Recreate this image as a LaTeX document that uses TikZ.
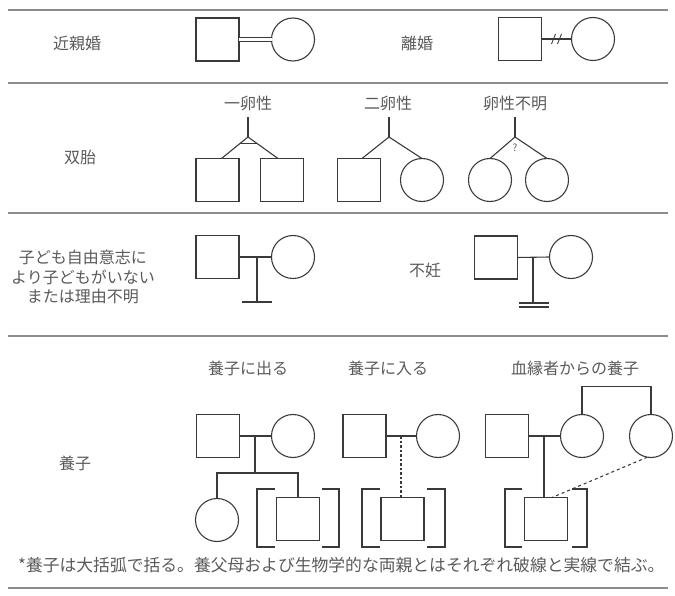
\documentclass[tikz,border=0pt]{standalone}
\usepackage{fontspec}
\newfontfamily\cjk{Noto Sans CJK JP}
\usetikzlibrary{calc}
\definecolor{ln}{HTML}{3A3A3A}
\definecolor{tx}{HTML}{5A5A5A}
\definecolor{rl}{HTML}{8C8C8C}
\tikzset{
  sq/.style={draw=ln, line width=1.1pt, minimum size=43pt, inner sep=0pt, outer sep=0pt},
  ci/.style={circle, draw=ln, line width=1.1pt, minimum size=43pt, inner sep=0pt, outer sep=0pt},
  lbl/.style={text=tx, font=\cjk\fontsize{16}{19.5}\selectfont, inner sep=0pt, align=center},
  note/.style={text=tx, font=\cjk\fontsize{16.8}{20}\selectfont, inner sep=0pt},
  conn/.style={draw=ln, line width=1.1pt},
  rulez/.style={draw=rl, line width=1.6pt},
  brk/.style={draw=ln, line width=1.1pt}
}
\begin{document}
\begin{tikzpicture}[x=1pt,y=-1pt]
\useasboundingbox (0,0) rectangle (675,596);
% rules
\draw[rulez] (8,10) -- (668,10);
\draw[rulez] (8,83) -- (668,83);
\draw[rulez] (8,213) -- (668,213);
\draw[rulez] (8,336) -- (668,336);
\draw[rulez] (8,588) -- (668,588);

% row 1
\node[lbl] (t1) at (77,43) {近親婚};
\node[sq] (s1) at (217.5,39.5) {};
\node[ci] (c1) at (293,39.5) {};
\draw[draw=ln, double=white, double distance=2.6pt, line width=1pt] (s1.east) -- (c1.west);
\node[lbl] (t2) at (417,43) {離婚};
\node[sq] (s2) at (520,39) {};
\node[ci] (c2) at (593,39) {};
\draw[conn] (s2.east) -- (c2.west);
\coordinate (dv) at ($(s2.east)!0.5!(c2.west)$);
\draw[conn, line width=0.9pt] ($(dv)+(-5,5)$) -- ($(dv)+(-1,-5)$);
\draw[conn, line width=0.9pt] ($(dv)+(1,5)$) -- ($(dv)+(5,-5)$);

% row 2
\node[lbl] (t3) at (80,157) {双胎};
\node[lbl] (m1) at (248,103) {一卵性};
\coordinate (a1) at (248,137);
\coordinate (a1t) at (248,117);
\node[sq] (tw1) at (217.5,180) {};
\node[sq] (tw2) at (282,180) {};
\draw[conn] (a1t) -- (a1);
\draw[conn] (a1) -- ($(tw1.north)+(4,0)$);
\draw[conn] (a1) -- ($(tw2.north)+(-4,0)$);
\draw[conn] ($(a1)!0.3!($(tw1.north)+(4,0)$)$) -- ($(a1)!0.3!($(tw2.north)+(-4,0)$)$);

\node[lbl] (m2) at (388,103) {二卵性};
\coordinate (a2) at (389,137);
\coordinate (a2t) at (389,117);
\node[sq] (dz1) at (359,180) {};
\node[ci] (dz2) at (422,180) {};
\draw[conn] (a2t) -- (a2);
\draw[conn] (a2) -- ($(dz1.north)+(3,0)$);
\draw[conn] (a2) -- (dz2.north);

\node[lbl] (m3) at (515,103) {卵性不明};
\coordinate (a3) at (515,137);
\coordinate (a3t) at (515,117);
\node[ci] (uz1) at (490,180) {};
\node[ci] (uz2) at (547,180) {};
\draw[conn] (a3t) -- (a3);
\draw[conn] (a3) -- (uz1.north);
\draw[conn] (a3) -- (uz2.north);
\node[text=tx, font=\cjk\fontsize{10}{12}\selectfont, inner sep=0pt] (q) at (515,148) {?};

% row 3
\node[lbl] (t4) at (83,277) {子ども自由意志に\\より子どもがいない\\または理由不明};
\node[sq] (s3) at (217.5,257) {};
\node[ci] (c3) at (293,257) {};
\draw[conn] (s3.east) -- (c3.west);
\coordinate (n1) at (257,257);
\coordinate (n1b) at (257,302);
\draw[conn] (n1) -- (n1b);
\draw[conn] ($(n1b)+(-15,0)$) -- ($(n1b)+(15,0)$);

\node[lbl] (t5) at (425,270) {不妊};
\node[sq] (s4) at (496,257.5) {};
\node[ci] (c4) at (571,257) {};
\draw[conn] (s4.east) -- (c4.west);
\coordinate (n2) at (533,257);
\coordinate (n2b) at (533,303);
\draw[conn] (n2) -- (n2b);
\draw[conn] ($(n2b)+(-14,0)$) -- ($(n2b)+(16,0)$);
\draw[conn] ($(n2b)+(-14,4)$) -- ($(n2b)+(16,4)$);

% row 4
\node[lbl] (t6) at (75,463) {養子};

\node[lbl] (h1) at (248,368) {養子に出る};
\node[sq] (s5) at (218,436) {};
\node[ci] (c5) at (293,436) {};
\draw[conn] (s5.east) -- (c5.west);
\node[ci] (k1) at (217,520) {};
\node[sq] (k2) at (298,519) {};
\coordinate (p5) at (255,436);
\coordinate (p5b) at (255,473);
\draw[conn] (p5) -- (p5b);
\draw[conn] (k1.north) |- (p5b) -| (k2.north);
\draw[brk] (275,489) -- (257,489) -- (257,547) -- (275,547);
\draw[brk] (322,489) -- (339,489) -- (339,547) -- (322,547);

\node[lbl] (h2) at (388,368) {養子に入る};
\node[sq] (s6) at (364.5,436) {};
\node[ci] (c6) at (438,436) {};
\draw[conn] (s6.east) -- (c6.west);
\node[sq] (k3) at (402.5,519) {};
\coordinate (p6) at (401,436);
\draw[conn, dash pattern=on 2.5pt off 2pt, line width=1.3pt] (p6) -- (p6 |- k3.north);
\draw[brk] (380,489) -- (362,489) -- (362,547) -- (380,547);
\draw[brk] (427,489) -- (445,489) -- (445,547) -- (427,547);

\node[lbl] (h3) at (575,368) {血縁者からの養子};
\node[sq] (s7) at (507,436) {};
\node[ci] (c7) at (582,436) {};
\node[ci] (c8) at (651,436) {};
\draw[conn] (s7.east) -- (c7.west);
\draw[conn] (c7.north) -- ++(0,-28) -| (c8.north);
\node[sq] (k4) at (546,519) {};
\coordinate (p7) at (544,436);
\draw[conn] (p7) -- (p7 |- k4.north);
\draw[conn, dashed] (c8.-100) -- ($(k4.north)+(6,0)$);
\draw[brk] (522,489) -- (505,489) -- (505,547) -- (522,547);
\draw[brk] (572,489) -- (587,489) -- (587,547) -- (572,547);

% footnote
\node[note, anchor=west] (fn) at (18,565) {*養子は大括弧で括る。養父母および生物学的な両親とはそれぞれ破線と実線で結ぶ。};
\end{tikzpicture}
\end{document}
